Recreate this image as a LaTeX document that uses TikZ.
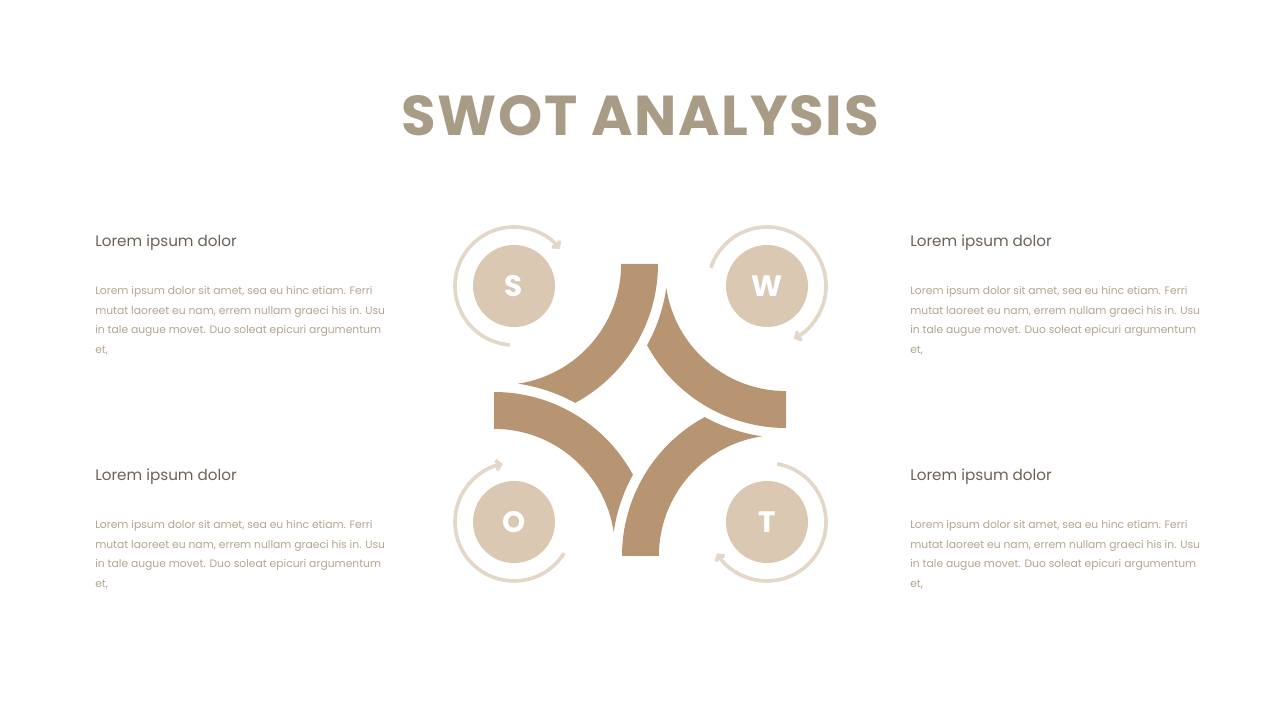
\documentclass[tikz,border=0pt]{standalone}
\usepackage{fontspec}
\setmainfont{Poppins}
\usetikzlibrary{arrows.meta}
\definecolor{titletan}{HTML}{A99C86}
\definecolor{headgray}{HTML}{6B6156}
\definecolor{bodytan}{HTML}{B2A58F}
\definecolor{piecetan}{HTML}{B89572}
\definecolor{circletan}{HTML}{DBC8B3}
\definecolor{ringtan}{HTML}{E3D7C8}
\begin{document}
\begin{tikzpicture}[x=0.025cm, y=0.025cm, line join=miter,
    piece/.style={fill=piecetan},
    letter/.style={circle, fill=circletan, minimum size=2.05cm, inner sep=0pt, text=white, font=\bfseries\fontsize{21}{21}\selectfont},
    ring/.style={draw=ringtan, line width=2.6pt, -{Straight Barb[length=3pt, width=7pt]}},
    heading/.style={anchor=base west, inner sep=0pt, text=headgray, font=\fontsize{10.8}{14}\selectfont},
    body/.style={anchor=north west, inner sep=0pt, align=left, text=bodytan, font=\fontsize{7.65}{13.9}\selectfont}]
    \useasboundingbox (0,0) rectangle (1280,720);

    % title
    \node[text=titletan, font=\bfseries\fontsize{40}{40}\selectfont\addfontfeature{LetterSpace=3}] (title) at (640,604) {SWOT ANALYSIS};

    % four arc pieces
    \foreach \a in {0,90,180,270}{
        \begin{scope}[shift={(640,310)}, rotate=\a]
            \fill[piece] (-19,146) -- (18,146) arc[start angle=0, end angle=-61.56, radius=158]
                arc[start angle=61.1, end angle=81.85, radius=168]
                arc[start angle=-81.56, end angle=0, radius=121] -- cycle;
        \end{scope}
    }

    % letters
    \node[letter] (S) at (514,434) {S};
    \node[letter] (W) at (767,434) {W};
    \node[letter] (O) at (514,198) {O};
    \node[letter] (T) at (767,198) {T};

    % rings
    \draw[ring] ([shift={(266:59)}]S.center) arc[start angle=266, end angle=39, radius=59];
    \draw[ring] ([shift={(162:59)}]W.center) arc[start angle=162, end angle=-63, radius=59];
    \draw[ring] ([shift={(-32:59)}]O.center) arc[start angle=-32, end angle=-259, radius=59];
    \draw[ring] ([shift={(80:59)}]T.center) arc[start angle=80, end angle=-148, radius=59];

    % text blocks
    \node[heading] (hS) at (95,473) {Lorem ipsum dolor};
    \node[body] (bS) at (95,434) {Lorem ipsum dolor sit amet, sea eu hinc etiam. Ferri\\mutat laoreet eu nam, errem nullam graeci his in. Usu\\in tale augue movet. Duo soleat epicuri argumentum\\et,};
    \node[heading] (hW) at (910,473) {Lorem ipsum dolor};
    \node[body] (bW) at (910,434) {Lorem ipsum dolor sit amet, sea eu hinc etiam. Ferri\\mutat laoreet eu nam, errem nullam graeci his in. Usu\\in tale augue movet. Duo soleat epicuri argumentum\\et,};
    \node[heading] (hO) at (95,239) {Lorem ipsum dolor};
    \node[body] (bO) at (95,200) {Lorem ipsum dolor sit amet, sea eu hinc etiam. Ferri\\mutat laoreet eu nam, errem nullam graeci his in. Usu\\in tale augue movet. Duo soleat epicuri argumentum\\et,};
    \node[heading] (hT) at (910,239) {Lorem ipsum dolor};
    \node[body] (bT) at (910,200) {Lorem ipsum dolor sit amet, sea eu hinc etiam. Ferri\\mutat laoreet eu nam, errem nullam graeci his in. Usu\\in tale augue movet. Duo soleat epicuri argumentum\\et,};
\end{tikzpicture}
\end{document}
